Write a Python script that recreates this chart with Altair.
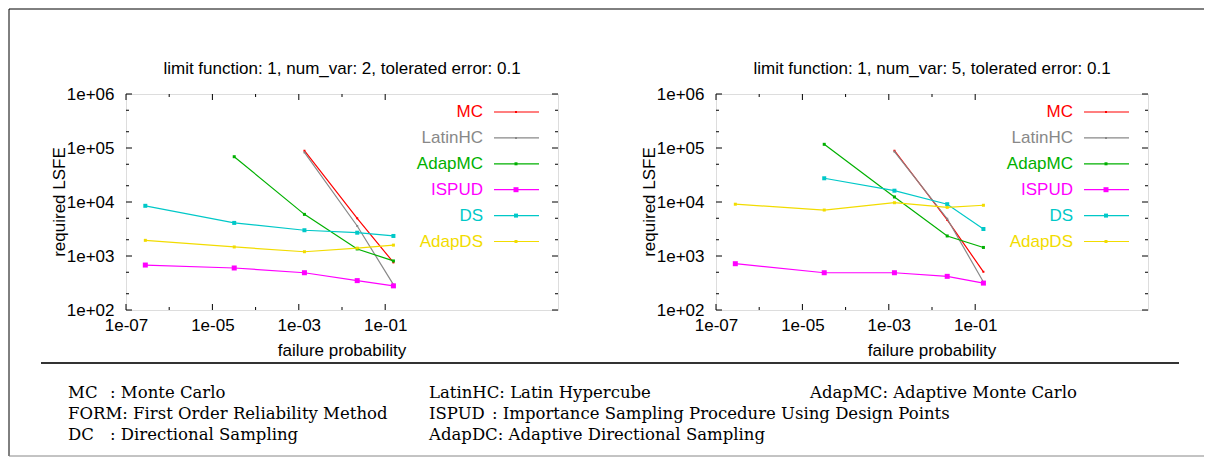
import altair as alt
import pandas as pd

# ---------------- data ----------------
PROBS = [2.8e-7, 3.2e-5, 1.35e-3, 2.25e-2, 1.55e-1]
SERIES = ["MC", "LatinHC", "AdapMC", "ISPUD", "DS", "AdapDS"]

# panel 1: num_var 2
L_MC = [None, None, 8.9e4, 5.0e3, 760]
L_LATINHC = [None, None, 8.3e4, 3.6e3, 295]
L_ADAPMC = [None, 6.9e4, 5.9e3, 1.35e3, 810]
L_ISPUD = [680, 600, 490, 350, 280]
L_DS = [8.5e3, 4.1e3, 3.0e3, 2.7e3, 2.35e3]
L_ADAPDS = [1950, 1470, 1200, 1400, 1590]

# panel 2: num_var 5
R_MC = [None, None, 8.9e4, 4.65e3, 510]
R_LATINHC = [None, None, 8.6e4, 4.9e3, 330]
R_ADAPMC = [None, 1.17e5, 1.24e4, 2.35e3, 1.44e3]
R_ISPUD = [720, 490, 490, 420, 315]
R_DS = [None, 2.75e4, 1.62e4, 9.1e3, 3.16e3]
R_ADAPDS = [9.1e3, 7.1e3, 9.7e3, 7.95e3, 8.7e3]

TITLES = ["limit function: 1, num_var: 2, tolerated error: 0.1",
          "limit function: 1, num_var: 5, tolerated error: 0.1"]
X_LABEL = "failure probability"
Y_LABEL = "required LSFE"

X_MAJOR = [1e-7, 1e-5, 1e-3, 1e-1]
X_MINOR = [1e-6, 1e-4, 1e-2]
Y_MAJOR = [1e2, 1e3, 1e4, 1e5, 1e6]
Y_MINOR = [2e2, 5e2, 2e3, 5e3, 2e4, 5e4, 2e5, 5e5]

FOOTER_HEADS = ["MC", "FORM: First Order Reliability Method", "DC",
                "LatinHC: Latin Hypercube", "ISPUD", "AdapDC: Adaptive Directional Sampling",
                "AdapMC: Adaptive Monte Carlo"]
FOOTER_RESTS = [": Monte Carlo", "", ": Directional Sampling",
                "", ": Importance Sampling Procedure Using Design Points", "",
                ""]

# ---------------- styles ----------------
COLORS = ["#ff0000", "#888888", "#00b000", "#ff00ff", "#00c8c8", "#f2dc00"]
SIZES = [4, 4, 9, 25, 16, 9]
SANS = "Liberation Sans"
SERIF = "DejaVu Serif"
FS = 17
FFS = 16.5
W, H = 432, 216


def long_df(cols):
    rows = []
    for s, vals in zip(SERIES, cols):
        for p, v in zip(PROBS, vals):
            if v is not None:
                rows.append({"series": s, "p": p, "n": v})
    return pd.DataFrame(rows)


xs = alt.Scale(type="log", domain=[1e-7, 1e3], nice=False)
ys = alt.Scale(type="log", domain=[1e2, 1e6], nice=False)
LBL = ("'1e' + (round(log(datum.value)/LN10) < 0 ? '-' : '+') + "
       "(abs(round(log(datum.value)/LN10)) < 10 ? '0' : '') + abs(round(log(datum.value)/LN10))")
XAX = alt.Axis(values=X_MAJOR, labelExpr=LBL, ticks=False, tickSize=0, domain=False, grid=False,
               title=None, labelFont=SANS, labelFontSize=FS, labelColor="black", labelPadding=7,
               labelFlush=False)
YAX = alt.Axis(values=Y_MAJOR, labelExpr=LBL, ticks=False, tickSize=0, domain=False, grid=False,
               title=None, labelFont=SANS, labelFontSize=FS, labelColor="black", labelPadding=12,
               labelFlush=False)
XE = alt.X("p:Q", scale=xs, axis=XAX)
YE = alt.Y("n:Q", scale=ys, axis=YAX)
ONE = pd.DataFrame({"k": [0]})


def vtext(txt, x, y, **kw):
    return alt.Chart(ONE).mark_text(**kw).encode(
        x=alt.value(x), y=alt.value(y), text=alt.value(txt))


def panel(cols, title, extras=()):
    df = long_df(cols)
    layers = list(extras)
    # ticks (inward, mirrored)
    for vals, ln in ((X_MAJOR, 6), (X_MINOR, 3)):
        d = pd.DataFrame({"p": vals})
        layers.append(alt.Chart(d).mark_rule(color="black").encode(x=XE, y=alt.value(H), y2=alt.value(H - ln)))
        layers.append(alt.Chart(d).mark_rule(color="black").encode(x=XE, y=alt.value(0), y2=alt.value(ln)))
    for vals, ln in ((Y_MAJOR, 6), (Y_MINOR, 3)):
        d = pd.DataFrame({"n": vals})
        layers.append(alt.Chart(d).mark_rule(color="black").encode(y=YE, x=alt.value(0), x2=alt.value(ln)))
        layers.append(alt.Chart(d).mark_rule(color="black").encode(y=YE, x=alt.value(W), x2=alt.value(W - ln)))

    # series lines and points
    for s, c, sz in zip(SERIES, COLORS, SIZES):
        ds = df[df["series"] == s]
        layers.append(alt.Chart(ds).mark_line(strokeWidth=1.2, color=c).encode(x=XE, y=YE))
        layers.append(alt.Chart(ds).mark_point(shape="square", filled=True, opacity=1, color=c, size=sz)
                      .encode(x=XE, y=YE))
    # legend
    for i, (s, c, sz) in enumerate(zip(SERIES, COLORS, SIZES)):
        yy = 18 + 25.9 * i
        layers.append(vtext(s, 357, yy, align="right", baseline="middle", font=SANS, fontSize=FS, color=c))
        layers.append(alt.Chart(ONE).mark_rule(color=c, strokeWidth=1.2).encode(
            x=alt.value(368), x2=alt.value(413), y=alt.value(yy)))
        layers.append(alt.Chart(ONE).mark_point(shape="square", filled=True, opacity=1, color=c, size=sz).encode(
            x=alt.value(390), y=alt.value(yy)))
    # titles
    layers.append(vtext(title, W / 2, -25, align="center", baseline="middle", font=SANS, fontSize=FS, color="black"))
    layers.append(vtext(X_LABEL, W / 2, 257, align="center", baseline="middle", font=SANS, fontSize=FS, color="black"))
    layers.append(vtext(Y_LABEL, -66, H / 2, align="center", baseline="middle", angle=270,
                        font=SANS, fontSize=FS, color="black"))
    return alt.layer(*layers).properties(width=W, height=H)


# page decorations (drawn with the left panel, relative to its plot area)
deco = []
deco.append(alt.Chart(ONE).mark_rule(color="black", strokeWidth=1).encode(
    x=alt.value(-117), x2=alt.value(1078), y=alt.value(-85)))
deco.append(alt.Chart(ONE).mark_rule(color="black", strokeWidth=1).encode(
    x=alt.value(-117), y=alt.value(-85), y2=alt.value(362)))
deco.append(alt.Chart(ONE).mark_rule(color="#888888", strokeWidth=1).encode(
    x=alt.value(-117), x2=alt.value(1078), y=alt.value(362)))
deco.append(alt.Chart(ONE).mark_rule(color="#333333", strokeWidth=2).encode(
    x=alt.value(-85), x2=alt.value(1053), y=alt.value(269)))

# (head x, rest x, y) relative to the left plot area
FOOT_POS = [(-58, -16, 299), (-58, 0, 320), (-58, -16, 341),
            (303, 0, 299), (303, 366, 320), (303, 0, 341),
            (684, 0, 299)]
for head, rest, (x0, xc, yy) in zip(FOOTER_HEADS, FOOTER_RESTS, FOOT_POS):
    deco.append(vtext(head, x0, yy, align="left", baseline="middle", font=SERIF, fontSize=FFS, color="black"))
    if rest:
        deco.append(vtext(rest, xc, yy, align="left", baseline="middle", font=SERIF, fontSize=FFS, color="black"))

left = panel([L_MC, L_LATINHC, L_ADAPMC, L_ISPUD, L_DS, L_ADAPDS], TITLES[0], deco)
right = panel([R_MC, R_LATINHC, R_ADAPMC, R_ISPUD, R_DS, R_ADAPDS], TITLES[1])

chart = alt.hconcat(left, right, spacing=158, bounds="flush", padding=0).configure_view(
    stroke="black", strokeWidth=1).configure(background="white")

chart.save("out.html", embed_options={"renderer": "svg", "actions": False})
